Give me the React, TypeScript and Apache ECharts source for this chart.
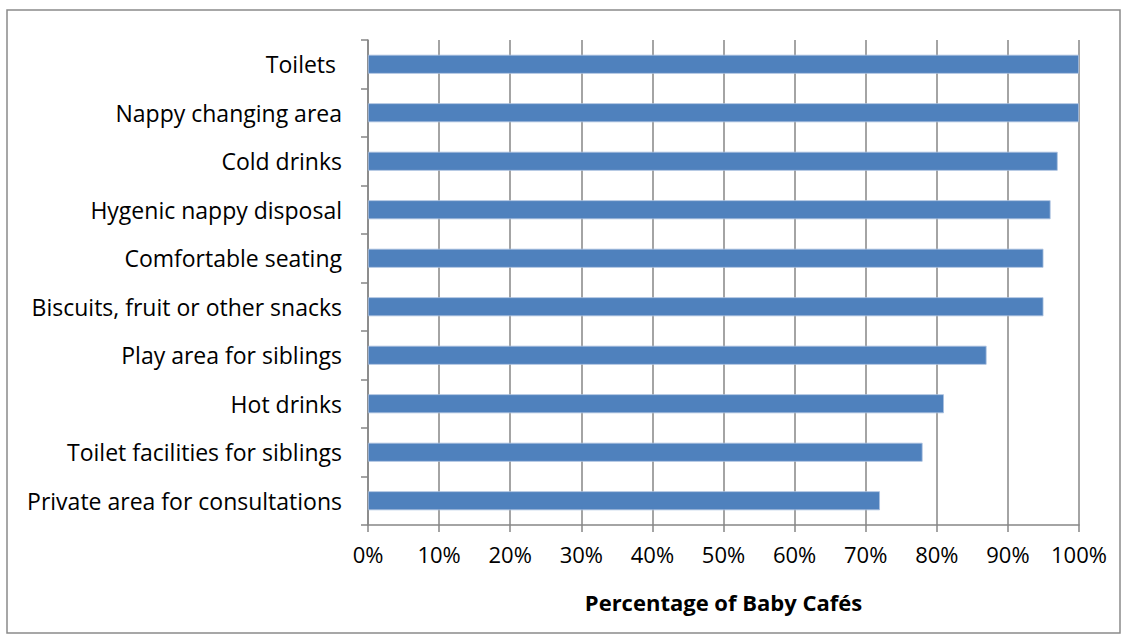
import React, { useEffect, useRef } from "react";
import * as echarts from "echarts";

const categories = [
  "Private area for consultations",
  "Toilet facilities for siblings",
  "Hot drinks",
  "Play area for siblings",
  "Biscuits, fruit or other snacks",
  "Comfortable seating",
  "Hygenic nappy disposal",
  "Cold drinks",
  "Nappy changing area",
  "Toilets ",
];
const values = [72, 78, 81, 87, 95, 95, 96, 97, 100, 100];
const xTicks = [0, 10, 20, 30, 40, 50, 60, 70, 80, 90, 100];

export default function App() {
  const ref = useRef<HTMLDivElement>(null);
  useEffect(() => {
    if (!ref.current) return;
    const chart = echarts.init(ref.current, null, { renderer: "svg" });
    const font = "'Open Sans', sans-serif";
    chart.setOption({
      animation: false,
      backgroundColor: "#fff",
      textStyle: { fontFamily: font },
      graphic: [
        {
          type: "rect",
          shape: { x: 7, y: 10, width: 1113, height: 623 },
          style: { fill: "none", stroke: "#8a8a8a", lineWidth: 1.5 },
          silent: true,
        },
      ],
      grid: { left: 368, right: 48, top: 40, bottom: 116 },
      xAxis: {
        type: "value",
        min: xTicks[0],
        max: xTicks[xTicks.length - 1],
        interval: 10,
        name: "Percentage of Baby Cafés",
        nameLocation: "middle",
        nameGap: 66,
        nameTextStyle: { fontFamily: font, fontSize: 22, fontWeight: "bold", color: "#000" },
        axisLine: { show: true, lineStyle: { color: "#868686", width: 1.5 } },
        axisTick: { show: true, length: 7, lineStyle: { color: "#868686", width: 1.5 } },
        axisLabel: {
          formatter: (v: number) => `${v}%`,
          fontFamily: font,
          fontSize: 22,
          color: "#000",
          margin: 18,
        },
        splitLine: { show: true, lineStyle: { color: "#868686", width: 1.5 } },
      },
      yAxis: {
        type: "category",
        data: categories,
        axisLine: { show: true, lineStyle: { color: "#868686", width: 1.5 } },
        axisTick: { show: true, length: 7, lineStyle: { color: "#868686", width: 1.5 } },
        axisLabel: { fontFamily: font, fontSize: 23, color: "#000", margin: 26 },
        splitLine: { show: false },
      },
      series: [
        {
          type: "bar",
          data: values,
          barWidth: 19,
          itemStyle: { color: "#4F81BD", borderColor: "#A9C0DF", borderWidth: 0.8 },
        },
      ],
    });
    return () => chart.dispose();
  }, []);
  return <div ref={ref} style={{ width: 1127, height: 641, position: "absolute", left: 0, top: 0 }} />;
}
